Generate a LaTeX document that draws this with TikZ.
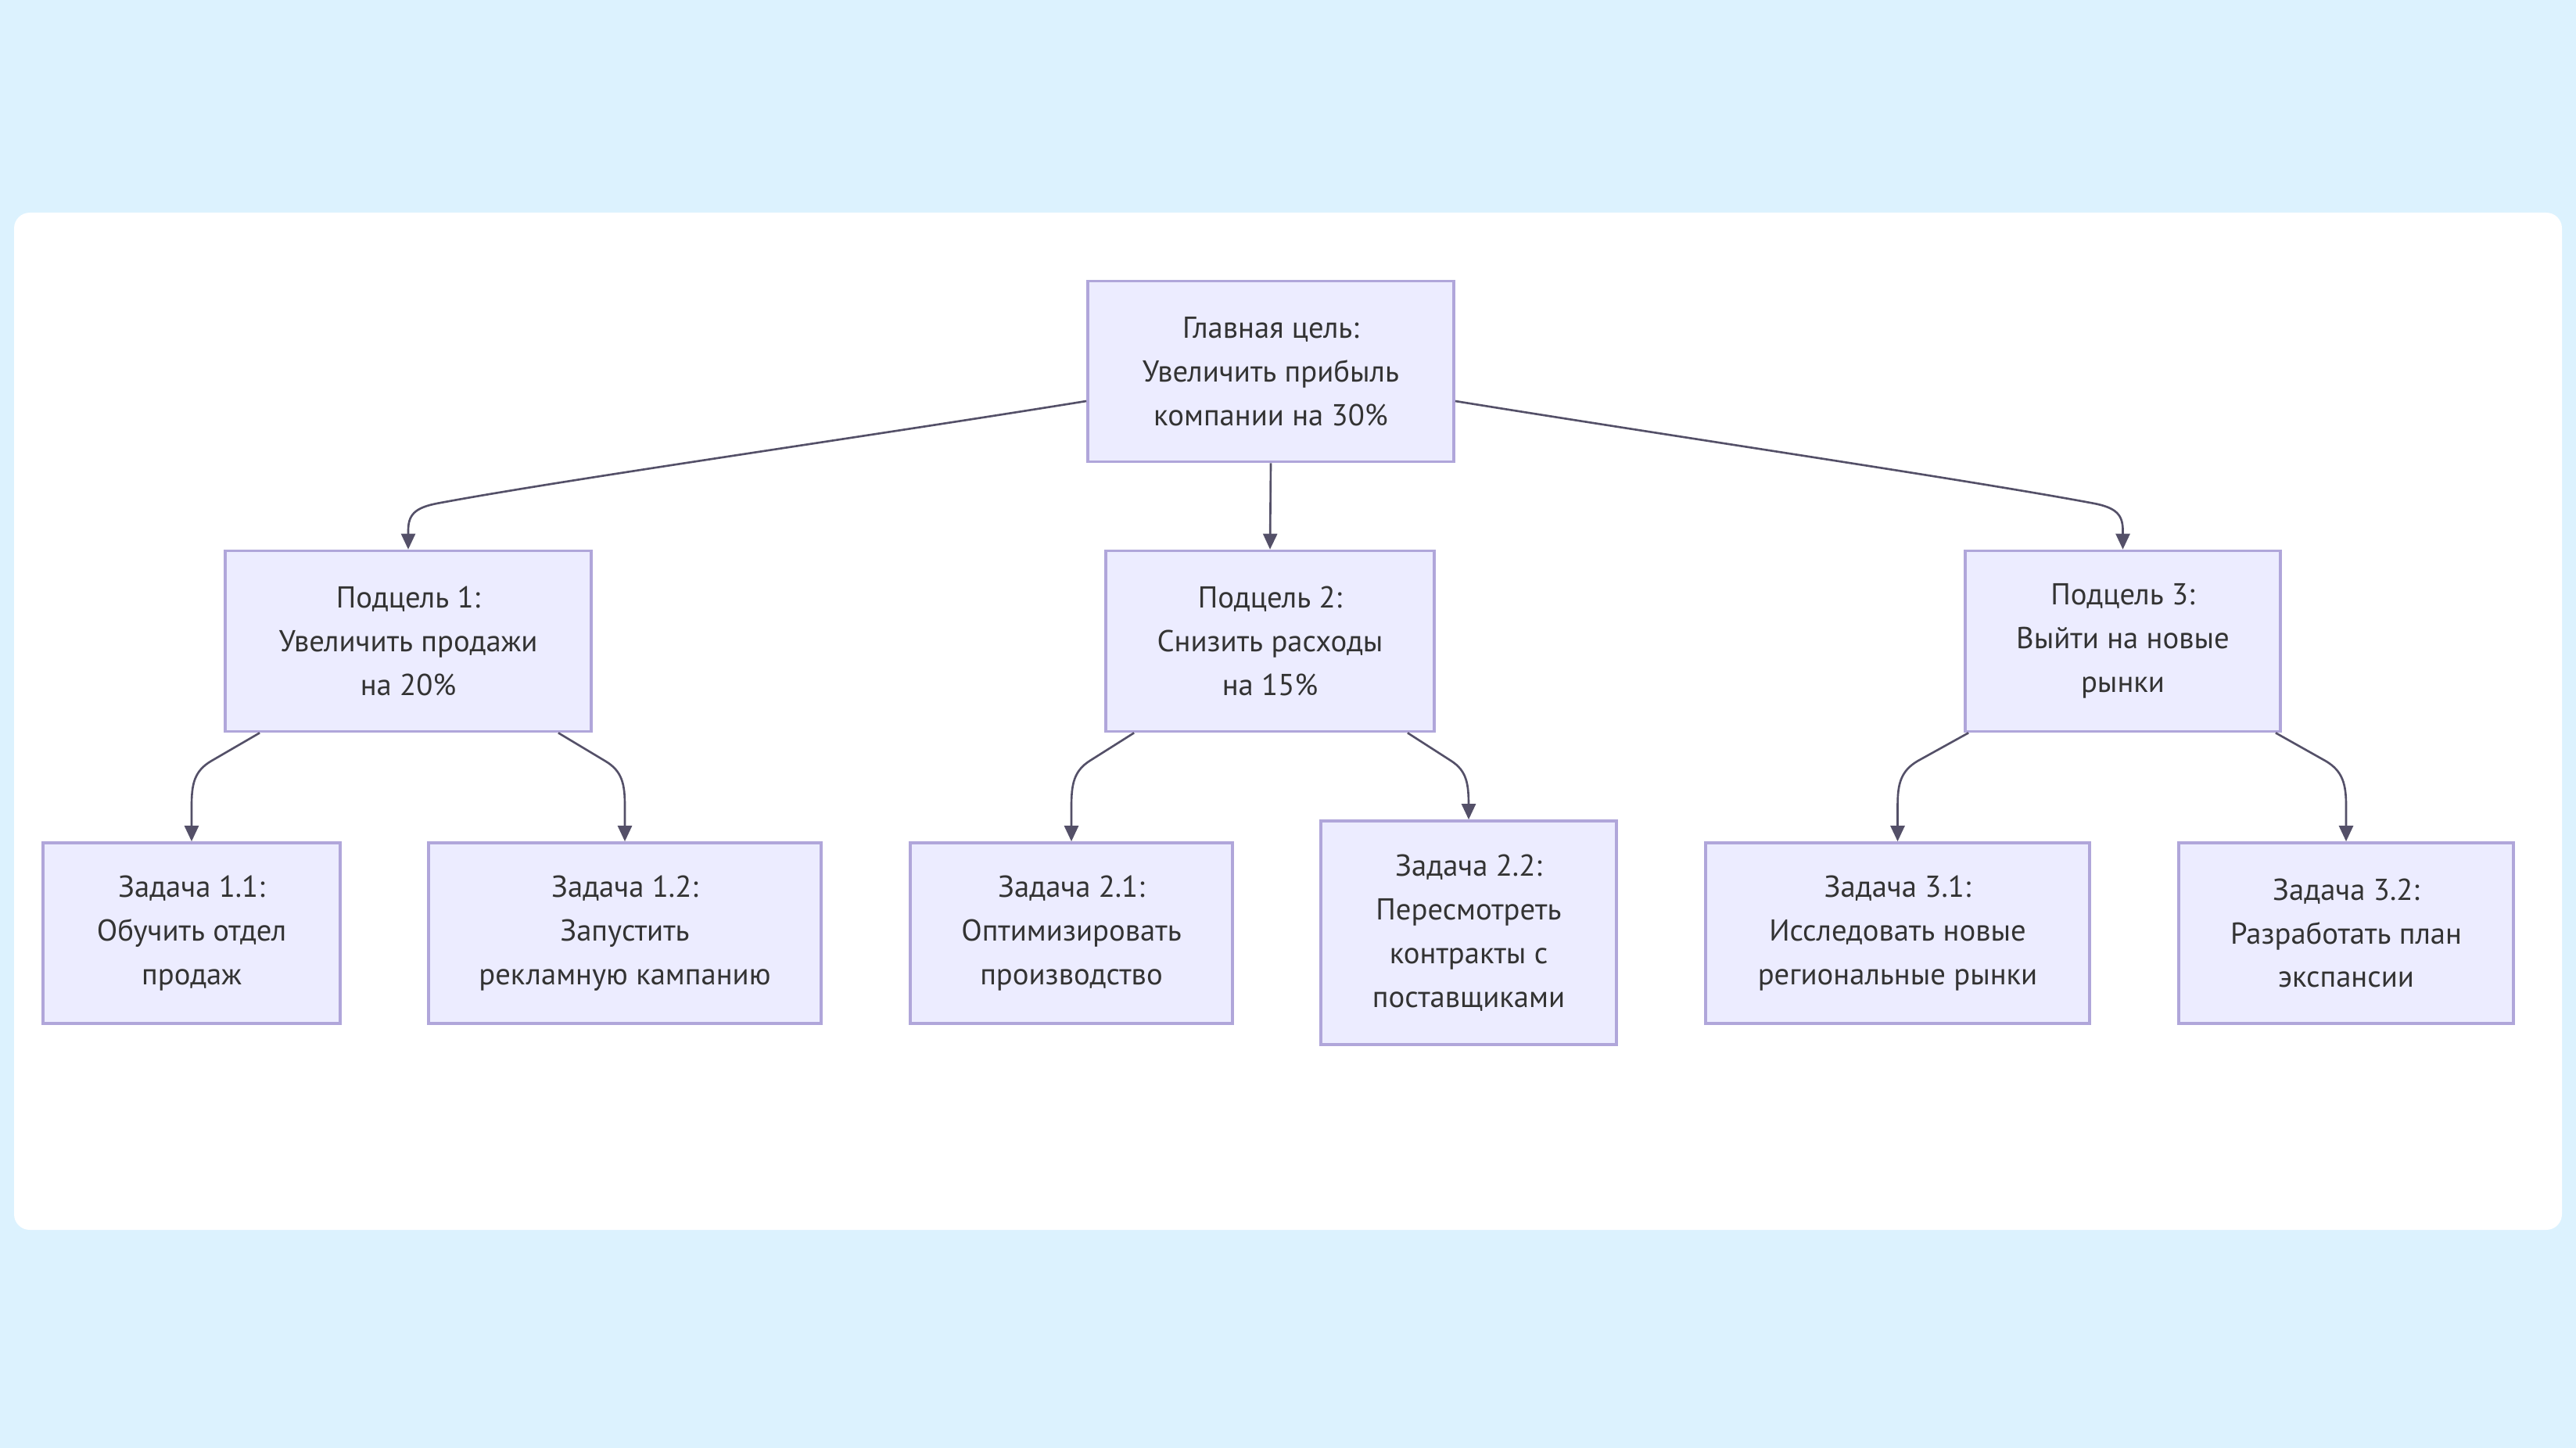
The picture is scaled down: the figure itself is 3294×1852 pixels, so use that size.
\documentclass[tikz,border=0pt]{standalone}
\usepackage{fontspec}
\setmainfont{PT Sans}
\usetikzlibrary{arrows.meta,calc}
\definecolor{bgblue}{RGB}{220,242,254}
\definecolor{nodefill}{RGB}{236,236,255}
\definecolor{nodeborder}{RGB}{176,166,218}
\definecolor{edgecol}{RGB}{84,80,104}
\definecolor{txt}{RGB}{51,51,51}
\tikzset{
  box/.style={draw=nodeborder, fill=nodefill, line width=1pt, align=center,
    inner sep=0pt, text=txt, font=\fontsize{11}{15.9}\selectfont},
  edge/.style={draw=edgecol, line width=0.75pt,
    -{Triangle[length=0.2cm,width=0.18cm]}},
}
\begin{document}
\begin{tikzpicture}[x=0.01cm,y=-0.01cm]
\useasboundingbox (0,0) rectangle (3294,1852);
\fill[bgblue] (0,0) rectangle (3294,1852);
\fill[white, rounded corners=0.2cm] (18,272) rectangle (3276,1573);

\node[box, minimum width=4.68cm, minimum height=2.31cm] (top) at (1625,475)
  {Главная цель:\\Увеличить прибыль\\компании на 30\%};

\node[box, minimum width=4.68cm, minimum height=2.31cm] (s1) at (522,820)
  {Подцель 1:\\Увеличить продажи\\на 20\%};
\node[box, minimum width=4.20cm, minimum height=2.31cm] (s2) at (1624,820)
  {Подцель 2:\\Снизить расходы\\на 15\%};
\node[box, minimum width=4.03cm, minimum height=2.31cm] (s3) at (2714.5,820)
  {Подцель 3:\\Выйти на новые\\рынки};

\node[box, minimum width=3.80cm, minimum height=2.31cm] (t11) at (245,1193.5)
  {Задача 1.1:\\Обучить отдел\\продаж};
\node[box, minimum width=5.02cm, minimum height=2.31cm] (t12) at (799,1193.5)
  {Задача 1.2:\\Запустить\\рекламную кампанию};
\node[box, minimum width=4.12cm, minimum height=2.31cm] (t21) at (1370,1193.5)
  {Задача 2.1:\\Оптимизировать\\производство};
\node[box, minimum width=3.78cm, minimum height=2.86cm] (t22) at (1878,1193)
  {Задача 2.2:\\Пересмотреть\\контракты с\\поставщиками};
\node[box, minimum width=4.91cm, minimum height=2.31cm] (t31) at (2426.5,1193.5)
  {Задача 3.1:\\Исследовать новые\\региональные рынки};
\node[box, minimum width=4.28cm, minimum height=2.31cm] (t32) at (3000,1193.5)
  {Задача 3.2:\\Разработать план\\экспансии};

% top level edges
\draw[edge] ($(top.west)+(0,38)$)
  .. controls +(-291,47) and +(160,-30) .. ($(s1.north)+(38,-59)$)
  .. controls +(-30,5.6) and +(0,-20) .. ($(s1.north)+(0,-24)$) -- (s1.north);
\draw[edge] (top.south) -- (s2.north);
\draw[edge] ($(top.east)+(0,38)$)
  .. controls +(291,47) and +(-160,-30) .. ($(s3.north)+(-38,-59)$)
  .. controls +(30,5.6) and +(0,-20) .. ($(s3.north)+(0,-24)$) -- (s3.north);

% child edges (left)
\draw[edge] ($(s1.south west)+(46,0)$) -- ++(-62,36)
  .. controls +(-22,13) and +(0,-28) .. ($(t11.north)+(0,-45)$) -- (t11.north);
\draw[edge] ($(s2.south west)+(38,0)$) -- ++(-57,36)
  .. controls +(-20,13) and +(0,-28) .. ($(t21.north)+(0,-45)$) -- (t21.north);
\draw[edge] ($(s3.south west)+(6,0)$) -- ++(-65,36)
  .. controls +(-22,13) and +(0,-28) .. ($(t31.north)+(0,-45)$) -- (t31.north);
% child edges (right)
\draw[edge] ($(s1.south east)+(-44,0)$) -- ++(60,36)
  .. controls +(22,13) and +(0,-28) .. ($(t12.north)+(0,-45)$) -- (t12.north);
\draw[edge] ($(s2.south east)+(-36,0)$) -- ++(56,36)
  .. controls +(20,13) and +(0,-28) .. ($(t22.north)+(0,-17)$) -- (t22.north);
\draw[edge] ($(s3.south east)+(-8,0)$) -- ++(64,36)
  .. controls +(22,13) and +(0,-28) .. ($(t32.north)+(0,-45)$) -- (t32.north);
\end{tikzpicture}
\end{document}
